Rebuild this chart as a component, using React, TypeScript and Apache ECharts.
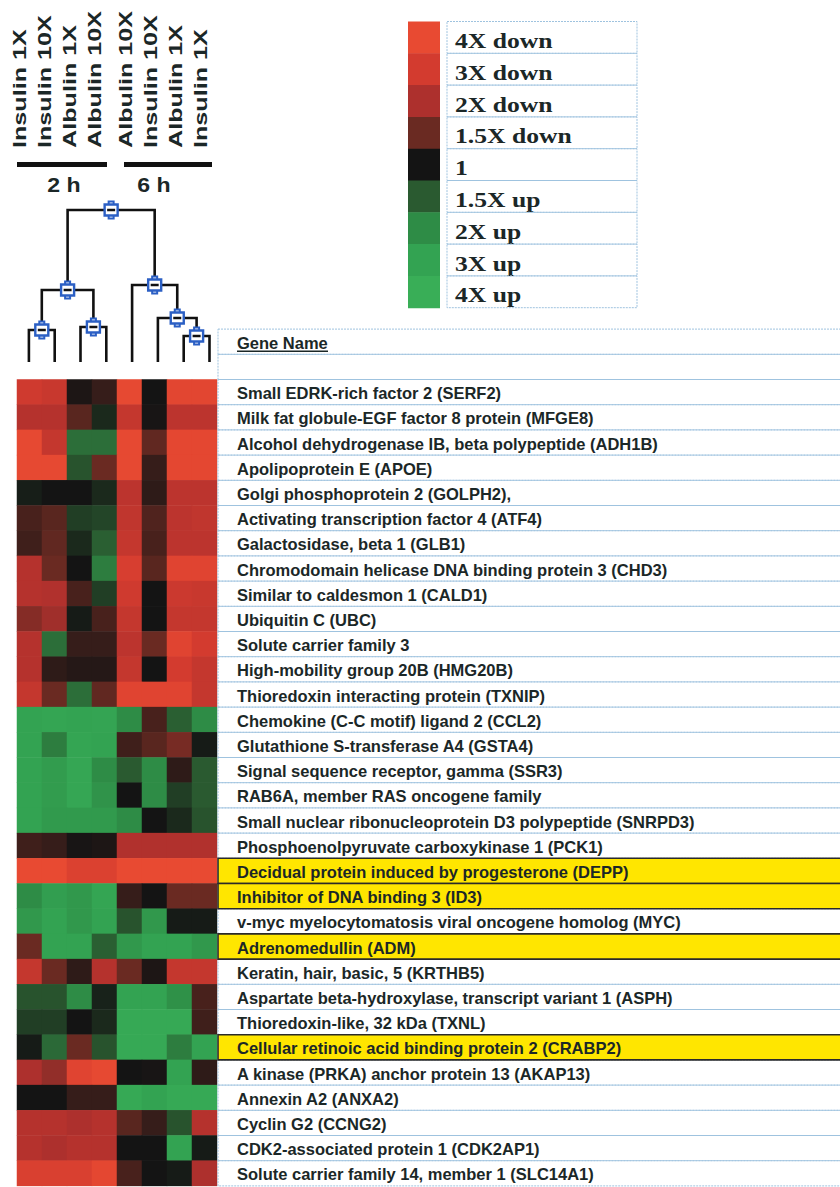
import React, { useEffect, useRef } from "react";
import * as echarts from "echarts";

// ---------- data ----------
const COLUMNS = [
  "Insulin 1X", "Insulin 10X", "Albulin 1X", "Albulin 10X",
  "Albulin 10X", "Insulin 10X", "Albulin 1X", "Insulin 1X",
];
const GROUPS = ["2 h", "6 h"];

const GENES = [
  "Small EDRK-rich factor 2 (SERF2)",
  "Milk fat globule-EGF factor 8 protein (MFGE8)",
  "Alcohol dehydrogenase IB, beta polypeptide (ADH1B)",
  "Apolipoprotein E (APOE)",
  "Golgi phosphoprotein 2 (GOLPH2),",
  "Activating transcription factor 4 (ATF4)",
  "Galactosidase, beta 1 (GLB1)",
  "Chromodomain helicase DNA binding protein 3 (CHD3)",
  "Similar to caldesmon 1 (CALD1)",
  "Ubiquitin C (UBC)",
  "Solute carrier family 3",
  "High-mobility group 20B (HMG20B)",
  "Thioredoxin interacting protein (TXNIP)",
  "Chemokine (C-C motif) ligand 2 (CCL2)",
  "Glutathione S-transferase A4 (GSTA4)",
  "Signal sequence receptor, gamma (SSR3)",
  "RAB6A, member RAS oncogene family",
  "Small nuclear ribonucleoprotein D3 polypeptide (SNRPD3)",
  "Phosphoenolpyruvate carboxykinase 1 (PCK1)",
  "Decidual protein induced by progesterone (DEPP)",
  "Inhibitor of DNA binding 3 (ID3)",
  "v-myc myelocytomatosis viral oncogene homolog (MYC)",
  "Adrenomedullin (ADM)",
  "Keratin, hair, basic, 5 (KRTHB5)",
  "Aspartate beta-hydroxylase, transcript variant 1 (ASPH)",
  "Thioredoxin-like, 32 kDa (TXNL)",
  "Cellular retinoic acid binding protein 2 (CRABP2)",
  "A kinase (PRKA) anchor protein 13 (AKAP13)",
  "Annexin A2 (ANXA2)",
  "Cyclin G2 (CCNG2)",
  "CDK2-associated protein 1 (CDK2AP1)",
  "Solute carrier family 14, member 1 (SLC14A1)",
];

const HIGHLIGHTED = [
  "Decidual protein induced by progesterone (DEPP)",
  "Inhibitor of DNA binding 3 (ID3)",
  "Adrenomedullin (ADM)",
  "Cellular retinoic acid binding protein 2 (CRABP2)",
];

// fold-change level: +1..+4 = 1.5X/2X/3X/4X down (red), 0 = 1 (black), negative = up (green)
const VALUES = [
  [2.9, 2.7, 0.1, 0.4, 3.9, 0.0, 3.7, 3.7],
  [2.2, 2.2, 0.8, -0.3, 2.6, 0.05, 2.4, 2.4],
  [3.9, 2.6, -1.4, -1.4, 3.9, 0.9, 3.8, 3.8],
  [3.9, 3.9, -0.9, 1.0, 3.9, 0.4, 3.8, 3.8],
  [-0.15, 0.0, 0.0, -0.3, 2.4, 0.3, 2.4, 2.4],
  [0.6, 0.8, -0.6, -0.7, 2.5, 0.7, 2.4, 2.5],
  [0.5, 0.9, -0.3, -1.1, 2.6, 0.6, 2.4, 2.4],
  [2.2, 1.0, 0.0, -1.7, 3.2, 0.8, 3.6, 3.6],
  [2.2, 2.1, 0.6, -0.6, 2.9, 0.0, 2.8, 2.7],
  [1.4, 1.8, -0.1, 0.6, 2.6, 0.0, 2.6, 2.6],
  [2.2, -1.4, 0.4, 0.4, 2.4, 1.0, 3.6, 3.0],
  [2.2, 0.3, 0.2, 0.2, 2.6, 0.0, 3.0, 2.6],
  [2.6, 1.0, -1.4, 0.9, 3.6, 3.6, 3.6, 2.6],
  [-3.0, -3.2, -3.0, -3.1, -2.0, 0.6, -1.1, -2.0],
  [-3.0, -1.7, -3.2, -3.0, 0.5, 0.8, 1.2, -0.1],
  [-3.0, -2.7, -3.3, -2.0, -1.0, -2.0, 0.3, -1.0],
  [-3.0, -2.7, -3.3, -2.3, 0.0, -2.0, -0.6, -1.0],
  [-3.0, -2.6, -2.6, -2.6, -2.0, 0.0, -0.3, -0.9],
  [0.5, 0.4, 0.05, 0.1, 2.1, 2.1, 2.1, 2.1],
  [4.0, 4.0, 3.4, 3.4, 4.0, 4.0, 4.0, 4.0],
  [-2.0, -2.8, -2.5, -3.2, 0.4, 0.0, 1.0, 1.0],
  [-2.5, -3.0, -2.5, -3.0, -0.9, -2.5, -0.1, -0.1],
  [1.0, -3.0, -3.0, -1.1, -2.5, -3.0, -3.0, -2.5],
  [2.6, 1.0, 0.3, 2.2, 1.0, 0.1, 2.6, 2.6],
  [-0.9, -0.9, -2.0, -0.2, -3.0, -3.0, -2.2, 0.6],
  [-0.6, -0.6, 0.0, -0.3, -3.5, -3.5, -3.5, 0.5],
  [-0.1, -1.3, 1.0, -0.9, -3.5, -3.5, -1.7, -3.0],
  [2.0, 1.6, 3.6, 3.9, 0.0, 0.05, -3.0, 0.3],
  [0.0, 0.0, 0.4, 0.4, -3.5, -3.0, -3.5, -3.5],
  [2.2, 2.2, 2.0, 2.2, 0.8, 0.4, -0.9, 2.2],
  [2.2, 2.0, 2.2, 2.2, 0.0, 0.0, -3.0, -0.1],
  [3.3, 3.3, 3.3, 3.8, 0.6, 0.0, -0.1, 2.0],
];

const LEGEND_LABELS = [
  "4X down", "3X down", "2X down", "1.5X down", "1",
  "1.5X up", "2X up", "3X up", "4X up",
];
const LEGEND_COLORS = [
  "#e84a32", "#d33b2f", "#ad302d", "#6a2a22", "#141414",
  "#2a5a30", "#2e8c46", "#33a352", "#39ae57",
];

// linkage: [childA, childB, height]; leaves 0..7, node k -> 8 + k
const DENDRO_LINKAGE = [
  [0, 1, 32],
  [2, 3, 35],
  [6, 7, 26],
  [5, 10, 44],
  [4, 11, 77],
  [8, 9, 72],
  [13, 12, 152],
];

// ---------- styling / layout ----------
const TEXT = "#1b2727";
const SANS = '"Liberation Sans", Arial, sans-serif';
const SERIF = '"Liberation Serif", "Times New Roman", serif';
const BLUE_BORDER = "#9fc3df";
const HEAT_LEFT = 17;
const HEAT_TOP = 379.5;
const HEAT_W = 200;
const ROW_H = 25.2;

export default function App() {
  const ref = useRef<HTMLDivElement>(null);

  useEffect(() => {
    if (!ref.current) return;
    const chart = echarts.init(ref.current, undefined, { renderer: "svg" });

    const heatData: number[][] = [];
    VALUES.forEach((row, r) => row.forEach((v, c) => heatData.push([c, r, v])));

    const nodeX: number[] = COLUMNS.map((_, i) => i);
    const nodeH: number[] = COLUMNS.map(() => 0);
    DENDRO_LINKAGE.forEach(([a, b, h]) => {
      nodeX.push((nodeX[a] + nodeX[b]) / 2);
      nodeH.push(h);
    });
    const linkData = DENDRO_LINKAGE.map(([a, b, h], k) => [
      nodeX[a], nodeH[a], nodeX[b], nodeH[b], h, nodeX[COLUMNS.length + k],
    ]);

    const graphics: any[] = [];
    // column labels
    COLUMNS.forEach((name, i) => {
      const shift = i < 4 ? 10 : 3.5;
      graphics.push({
        type: "text",
        x: HEAT_LEFT + 25 * (i + 0.5) - shift,
        y: 148,
        rotation: Math.PI / 2,
        scaleX: 1.4,
        style: {
          text: name,
          font: `bold 18px ${SANS}`,
          fill: TEXT,
          align: "left",
          textAlign: "left",
          verticalAlign: "middle",
          textVerticalAlign: "middle",
        },
      });
    });
    // group bars and labels
    const groupBars = [
      [17, 107, 64],
      [124, 212, 154],
    ];
    GROUPS.forEach((g, i) => {
      const [x1, x2, cx] = groupBars[i];
      graphics.push({
        type: "rect",
        shape: { x: x1, y: 162, width: x2 - x1, height: 5 },
        style: { fill: "#111" },
      });
      graphics.push({
        type: "text",
        x: cx,
        y: 185,
        scaleX: 1.1,
        style: {
          text: g,
          font: `bold 21px ${SANS}`,
          fill: TEXT,
          align: "center",
          textAlign: "center",
          verticalAlign: "middle",
          textVerticalAlign: "middle",
        },
      });
    });
    // legend
    const LG_TOP = 21.5;
    const LG_H = 31.8;
    LEGEND_LABELS.forEach((lab, i) => {
      const y = LG_TOP + i * LG_H;
      graphics.push({
        type: "rect",
        shape: { x: 408, y, width: 32, height: LG_H + 0.5 },
        style: { fill: LEGEND_COLORS[i] },
      });
      graphics.push({
        type: "rect",
        shape: { x: 447, y, width: 190, height: LG_H },
        style: { fill: "none", stroke: BLUE_BORDER, lineWidth: 1, lineDash: [2, 1] },
      });
      graphics.push({
        type: "text",
        x: 455,
        y: y + LG_H / 2 + 3.5,
        scaleX: 1.22,
        style: {
          text: lab,
          font: `bold 21px ${SERIF}`,
          fill: TEXT,
          align: "left",
          textAlign: "left",
          verticalAlign: "middle",
          textVerticalAlign: "middle",
        },
      });
    });
    // table header rows
    const TBL_X = HEAT_LEFT + HEAT_W + 1;
    graphics.push({
      type: "rect",
      shape: { x: TBL_X, y: HEAT_TOP - 2 * ROW_H, width: 900 - TBL_X, height: ROW_H },
      style: { fill: "none", stroke: BLUE_BORDER, lineWidth: 1, lineDash: [2, 1] },
    });
    graphics.push({
      type: "rect",
      shape: { x: TBL_X, y: HEAT_TOP - ROW_H, width: 900 - TBL_X, height: ROW_H },
      style: { fill: "none", stroke: BLUE_BORDER, lineWidth: 1, lineDash: [2, 1] },
    });
    graphics.push({
      type: "text",
      x: TBL_X + 19,
      y: HEAT_TOP - 2 * ROW_H + 14,
      style: {
        text: "Gene Name",
        font: `bold 16.5px ${SANS}`,
        fill: TEXT,
        align: "left",
        textAlign: "left",
        verticalAlign: "middle",
        textVerticalAlign: "middle",
      },
    });
    graphics.push({
      type: "line",
      shape: { x1: TBL_X + 19, y1: HEAT_TOP - ROW_H - 3, x2: TBL_X + 19 + 91, y2: HEAT_TOP - ROW_H - 3 },
      style: { stroke: TEXT, lineWidth: 1.5 },
    });

    chart.setOption({
      animation: false,
      backgroundColor: "#ffffff",
      grid: [
        { left: HEAT_LEFT, top: HEAT_TOP, width: HEAT_W, height: ROW_H * GENES.length },
        { left: 16, top: 202, width: 206.4, height: 160 },
      ],
      xAxis: [
        { type: "category", data: COLUMNS, gridIndex: 0, show: false },
        { type: "value", min: -0.5, max: 7.5, gridIndex: 1, show: false },
      ],
      yAxis: [
        { type: "category", data: GENES, gridIndex: 0, inverse: true, show: false },
        { type: "value", min: 0, max: 160, gridIndex: 1, show: false },
      ],
      visualMap: {
        type: "continuous",
        show: false,
        seriesIndex: 0,
        min: -4,
        max: 4,
        inRange: { color: LEGEND_COLORS.slice().reverse() },
      },
      series: [
        {
          type: "heatmap",
          xAxisIndex: 0,
          yAxisIndex: 0,
          data: heatData,
          itemStyle: { borderWidth: 0 },
          emphasis: { disabled: true },
        },
        {
          type: "custom",
          xAxisIndex: 0,
          yAxisIndex: 0,
          clip: false,
          silent: true,
          data: GENES.map((g, i) => [0, i, HIGHLIGHTED.includes(g) ? 1 : 0]),
          renderItem: (params: any, api: any) => {
            const i = api.value(1);
            const hl = api.value(2) === 1;
            const cs = params.coordSys;
            const yc = api.coord([0, i])[1];
            const h = api.size([0, 1])[1];
            const x0 = cs.x + cs.width + 1;
            return {
              type: "group",
              children: [
                {
                  type: "rect",
                  z2: hl ? 5 : 1,
                  shape: { x: x0, y: yc - h / 2, width: 900 - x0, height: h },
                  style: hl
                    ? { fill: "#ffe600", stroke: "#2a2a2a", lineWidth: 1.6 }
                    : { fill: "none", stroke: BLUE_BORDER, lineWidth: 1, lineDash: [2, 1] },
                },
                {
                  type: "text",
                  z2: 10,
                  x: x0 + 19,
                  y: yc + 1,
                  style: {
                    text: GENES[i],
                    font: `bold 16.5px ${SANS}`,
                    fill: TEXT,
                    align: "left",
                    textAlign: "left",
                    verticalAlign: "middle",
                    textVerticalAlign: "middle",
                  },
                },
              ],
            };
          },
        },
        {
          type: "custom",
          xAxisIndex: 1,
          yAxisIndex: 1,
          clip: false,
          silent: true,
          data: linkData,
          renderItem: (params: any, api: any) => {
            const xa = api.value(0), ha = api.value(1);
            const xb = api.value(2), hb = api.value(3);
            const h = api.value(4), xn = api.value(5);
            const pts = [
              api.coord([xa, ha]),
              api.coord([xa, h]),
              api.coord([xb, h]),
              api.coord([xb, hb]),
            ];
            const c = api.coord([xn, h]);
            return {
              type: "group",
              children: [
                {
                  type: "polyline",
                  shape: { points: pts },
                  style: { stroke: "#111", lineWidth: 2.6, fill: "none" },
                },
                {
                  type: "rect",
                  z2: 5,
                  shape: { x: c[0] - 2.5, y: c[1] - 8.5, width: 5, height: 17 },
                  style: { fill: "#fff", stroke: "#2b5fc4", lineWidth: 2 },
                },
                {
                  type: "rect",
                  z2: 6,
                  shape: { x: c[0] - 6.5, y: c[1] - 5.5, width: 13, height: 11 },
                  style: { fill: "#fff", stroke: "#2b5fc4", lineWidth: 2.4 },
                },
                {
                  type: "line",
                  z2: 7,
                  shape: { x1: c[0] - 4, y1: c[1], x2: c[0] + 4, y2: c[1] },
                  style: { stroke: "#111", lineWidth: 2.5 },
                },
              ],
            };
          },
        },
      ],
      graphic: graphics,
    });

    return () => chart.dispose();
  }, []);

  return (
    <div
      ref={ref}
      style={{ position: "absolute", left: 0, top: 0, width: 840, height: 1187, background: "#fff" }}
    />
  );
}
